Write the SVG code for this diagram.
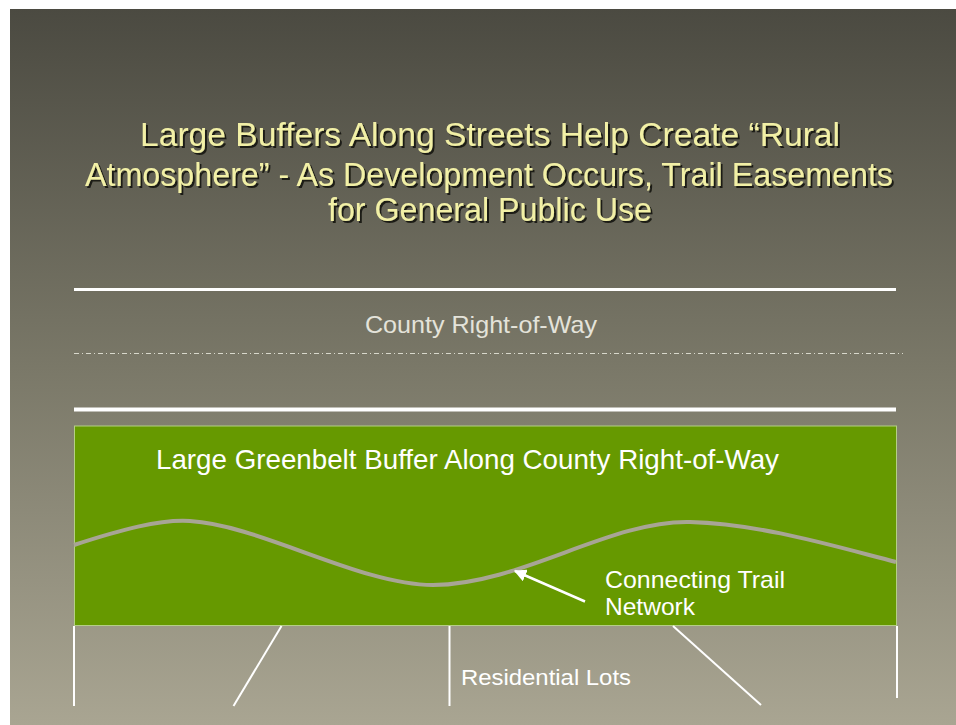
<svg xmlns="http://www.w3.org/2000/svg" width="956" height="725" viewBox="0 0 956 725">
<defs>
<linearGradient id="bg" x1="0" y1="0" x2="0" y2="1">
<stop offset="0" stop-color="#4b4a41"/>
<stop offset="0.5" stop-color="#7a7868"/>
<stop offset="1" stop-color="#a9a592"/>
</linearGradient>
<filter id="sh" x="-5%" y="-30%" width="110%" height="160%">
<feDropShadow dx="2" dy="2" stdDeviation="0.6" flood-color="#1e1e18" flood-opacity="1"/>
</filter>
<marker id="ah" viewBox="0 0 10 10" refX="9" refY="5" markerWidth="5" markerHeight="5" orient="auto" markerUnits="strokeWidth">
<path d="M0,0 L10,5 L0,10 z" fill="#ffffff"/>
</marker>
<style>
.title{font-family:"Liberation Sans",Arial,sans-serif;font-size:34px;fill:#f2f0a6;filter:url(#sh)}
.lbl{font-family:"Liberation Sans",Arial,sans-serif;fill:#ffffff}
.wl{stroke:#ffffff;fill:none}
</style>
</defs>
<rect x="0" y="0" width="956" height="725" fill="#ffffff"/>
<rect x="10" y="9" width="946" height="716" fill="url(#bg)"/>
<g id="title">
<text class="title" x="140" y="146" textLength="700" lengthAdjust="spacingAndGlyphs">Large Buffers Along Streets Help Create “Rural</text>
<text class="title" x="85" y="186" textLength="808" lengthAdjust="spacingAndGlyphs">Atmosphere” - As Development Occurs, Trail Easements</text>
<text class="title" x="328" y="221" textLength="324" lengthAdjust="spacingAndGlyphs">for General Public Use</text>
</g>
<g id="right-of-way">
<line x1="74" y1="289.5" x2="896" y2="289.5" stroke="#ffffff" stroke-width="3"/>
<text class="lbl" x="365" y="333" font-size="24" style="fill:#e4e3da" textLength="232" lengthAdjust="spacingAndGlyphs">County Right-of-Way</text>
<line x1="74" y1="353.5" x2="903" y2="353.5" stroke="#d8d8cc" stroke-width="1.2" stroke-dasharray="5,3,1,3"/>
<line x1="74" y1="409.5" x2="896" y2="409.5" stroke="#ffffff" stroke-width="4"/>
</g>
<g id="greenbelt">
<rect x="74.5" y="426" width="822" height="199.5" fill="#669900" stroke="#b4cf86" stroke-width="1"/>
<text class="lbl" x="156" y="469" font-size="28" textLength="623" lengthAdjust="spacingAndGlyphs">Large Greenbelt Buffer Along County Right-of-Way</text>
</g>
<g id="trail">
<path d="M74,545 C120,530 160,519 190,521 C260,525 360,585 433,585 C520,585 610,520 690,522 C760,524 830,545 896,562" fill="none" stroke="#a8a595" stroke-width="4"/>
<text class="lbl" x="605" y="588" font-size="24" textLength="180" lengthAdjust="spacingAndGlyphs">Connecting Trail</text>
<text class="lbl" x="605" y="615" font-size="24" textLength="90" lengthAdjust="spacingAndGlyphs">Network</text>
</g>
<g id="lots">
<text class="lbl" x="461" y="685" font-size="22" textLength="170" lengthAdjust="spacingAndGlyphs">Residential Lots</text>
</g>
<g id="connectors">
<line class="wl" x1="585" y1="601.5" x2="515" y2="571" stroke-width="2.5" marker-end="url(#ah)"/>
<line class="wl" x1="74" y1="626" x2="74" y2="706" stroke-width="2"/>
<line class="wl" x1="281.5" y1="626" x2="233.5" y2="706" stroke-width="2"/>
<line class="wl" x1="449.5" y1="626" x2="449.5" y2="706" stroke-width="2"/>
<line class="wl" x1="673" y1="626" x2="761" y2="705" stroke-width="2"/>
<line class="wl" x1="897" y1="626" x2="897" y2="698" stroke-width="2"/>
</g>
</svg>
